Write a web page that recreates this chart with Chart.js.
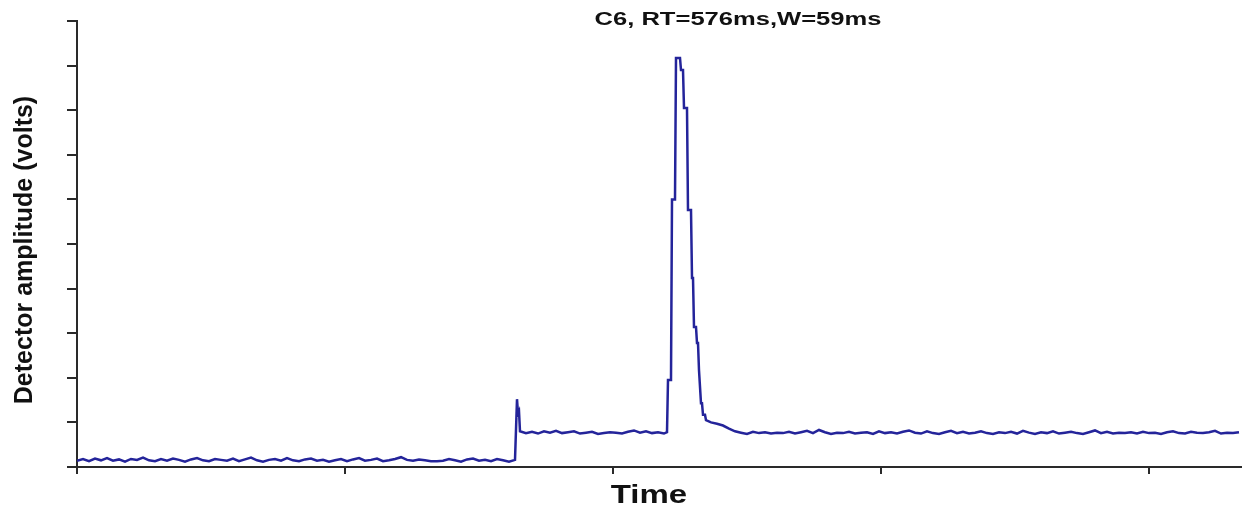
<!DOCTYPE html>
<html>
<head>
<meta charset="utf-8">
<script src="https://cdn.jsdelivr.net/npm/chart.js@4.4.1/dist/chart.umd.min.js"></script>
<style>
  html, body { margin: 0; padding: 0; background: #fff; }
  canvas { display: block; }
</style>
</head>
<body>
<canvas id="chromatogram" width="1242" height="508"></canvas>
<script>
// DATA (x in samples, y in volts)
const titleText = "C6, RT=576ms,W=59ms";
const xLabel = "Time";
const yLabel = "Detector amplitude (volts)";

const xTickValues = [0, 268, 536, 804, 1072];
const yTickValues = [0, 1, 2, 3, 4, 5, 6, 7, 8, 9, 10];

const sampleStep = 6;

// baseline before injection, starts at t=0
const preStart = 0;
const preInjection = [
  0.14, 0.18, 0.13, 0.19, 0.15, 0.20, 0.14, 0.17, 0.12, 0.18,
  0.16, 0.21, 0.15, 0.13, 0.18, 0.14, 0.19, 0.16, 0.12, 0.17,
  0.20, 0.15, 0.13, 0.18, 0.16, 0.14, 0.19, 0.13, 0.17, 0.21,
  0.15, 0.12, 0.16, 0.18, 0.14, 0.20, 0.15, 0.13, 0.17, 0.19,
  0.14, 0.16, 0.12, 0.15, 0.18, 0.13, 0.17, 0.20, 0.14, 0.16,
  0.19, 0.13, 0.15, 0.18, 0.22, 0.16, 0.14, 0.17, 0.15, 0.13,
  0.13, 0.14, 0.18, 0.15, 0.12, 0.17, 0.19, 0.14, 0.16, 0.13,
  0.18, 0.15, 0.12, 0.16,
];

// injection spike
const spikeTimes = [440, 441, 442, 443];
const spikeAmps = [1.52, 1.20, 1.25, 0.80];

// plateau before the peak
const plateauStart = 449;
const plateau = [
  0.76, 0.79, 0.75, 0.80, 0.77, 0.81, 0.76, 0.78, 0.80, 0.75,
  0.77, 0.79, 0.74, 0.76, 0.78, 0.77, 0.75, 0.79, 0.82, 0.77,
  0.80, 0.76, 0.78, 0.75,
];

// C6 peak (stepped detector output)
const peakTimes = [590, 591, 594, 595, 598, 599, 603, 604, 606, 607, 610, 611, 614, 615, 616, 617,
  619, 620, 621, 622, 623, 624, 625, 626, 628, 629, 634, 640, 646, 652, 658];
const peakAmps = [0.78, 1.95, 1.95, 6.0, 6.0, 9.17, 9.17, 8.9, 8.9, 8.05, 8.05, 5.76, 5.76, 4.24, 4.24, 3.14,
  3.14, 2.78, 2.78, 2.17, 2.17, 1.43, 1.43, 1.17, 1.17, 1.05, 1.0, 0.97, 0.93, 0.86, 0.80];

// tail after the peak
const tailStart = 664;
const tail = [
  0.77, 0.74, 0.79, 0.76, 0.78, 0.75, 0.77, 0.76, 0.79, 0.75,
  0.78, 0.81, 0.76, 0.83, 0.78, 0.74, 0.77, 0.76, 0.79, 0.75,
  0.77, 0.78, 0.74, 0.80, 0.76, 0.78, 0.75, 0.79, 0.82, 0.77,
  0.75, 0.80, 0.76, 0.74, 0.78, 0.81, 0.76, 0.79, 0.75, 0.77,
  0.80, 0.76, 0.74, 0.78, 0.76, 0.79, 0.75, 0.81, 0.77, 0.74,
  0.78, 0.76, 0.80, 0.75, 0.77, 0.79, 0.76, 0.74, 0.78, 0.82,
  0.76, 0.79, 0.75, 0.77, 0.76, 0.78, 0.75, 0.79, 0.76, 0.77,
  0.74, 0.78, 0.80, 0.76, 0.75, 0.79, 0.77, 0.76, 0.78, 0.81,
  0.75, 0.77, 0.76, 0.78,
];

const xMax = 1165;

// build the trace
function sampled(start, values) {
  return values.map((v, i) => ({ x: start + i * sampleStep, y: v }));
}
function paired(times, amps) {
  return times.map((t, i) => ({ x: t, y: amps[i] }));
}
const trace = [
  ...sampled(preStart, preInjection),
  ...paired(spikeTimes, spikeAmps),
  ...sampled(plateauStart, plateau),
  ...paired(peakTimes, peakAmps),
  ...sampled(tailStart, tail),
];

const axisColor = "#2a2a2a";

// texts
const labelsPlugin = {
  id: "labels",
  afterDraw(chart) {
    const { ctx, chartArea } = chart;
    ctx.save();
    ctx.fillStyle = "#111";
    ctx.textAlign = "center";
    ctx.textBaseline = "middle";

    // title (wide, as in the source image)
    ctx.save();
    ctx.font = 'bold 18px "Liberation Sans", Arial, sans-serif';
    ctx.translate(738, 20);
    ctx.scale(1.42, 1);
    ctx.fillText(titleText, 0, 0);
    ctx.restore();

    // x axis title
    ctx.save();
    ctx.font = 'bold 25px "Liberation Sans", Arial, sans-serif';
    ctx.translate(649, 496);
    ctx.scale(1.32, 1);
    ctx.fillText(xLabel, 0, 0);
    ctx.restore();

    // y axis title
    ctx.save();
    ctx.font = 'bold 25px "Liberation Sans", Arial, sans-serif';
    ctx.translate(25, (chartArea.top + chartArea.bottom) / 2 + 6);
    ctx.rotate(-Math.PI / 2);
    ctx.fillText(yLabel, 0, 0);
    ctx.restore();

    ctx.restore();
  },
};

new Chart(document.getElementById("chromatogram"), {
  type: "line",
  data: {
    datasets: [
      {
        data: trace,
        borderColor: "#24249a",
        borderWidth: 2.5,
        pointRadius: 0,
        tension: 0,
        fill: false,
      },
    ],
  },
  options: {
    responsive: false,
    animation: false,
    devicePixelRatio: 1,
    layout: { padding: { top: 21, right: 0, left: 0, bottom: 0 } },
    plugins: { legend: { display: false }, tooltip: { enabled: false } },
    scales: {
      x: {
        type: "linear",
        min: 0,
        max: xMax,
        afterBuildTicks: (s) => { s.ticks = xTickValues.map((v) => ({ value: v })); },
        afterFit: (s) => { s.height = 41; },
        ticks: { display: false },
        grid: { drawOnChartArea: false, drawTicks: true, tickLength: 7, color: axisColor, lineWidth: 2 },
        border: { display: true, color: axisColor, width: 2 },
      },
      y: {
        min: 0,
        max: 10,
        afterBuildTicks: (s) => { s.ticks = yTickValues.map((v) => ({ value: v })); },
        afterFit: (s) => { s.width = 77; },
        ticks: { display: false },
        grid: { drawOnChartArea: false, drawTicks: true, tickLength: 10, color: axisColor, lineWidth: 2 },
        border: { display: true, color: axisColor, width: 2 },
      },
    },
  },
  plugins: [labelsPlugin],
});
</script>
</body>
</html>
